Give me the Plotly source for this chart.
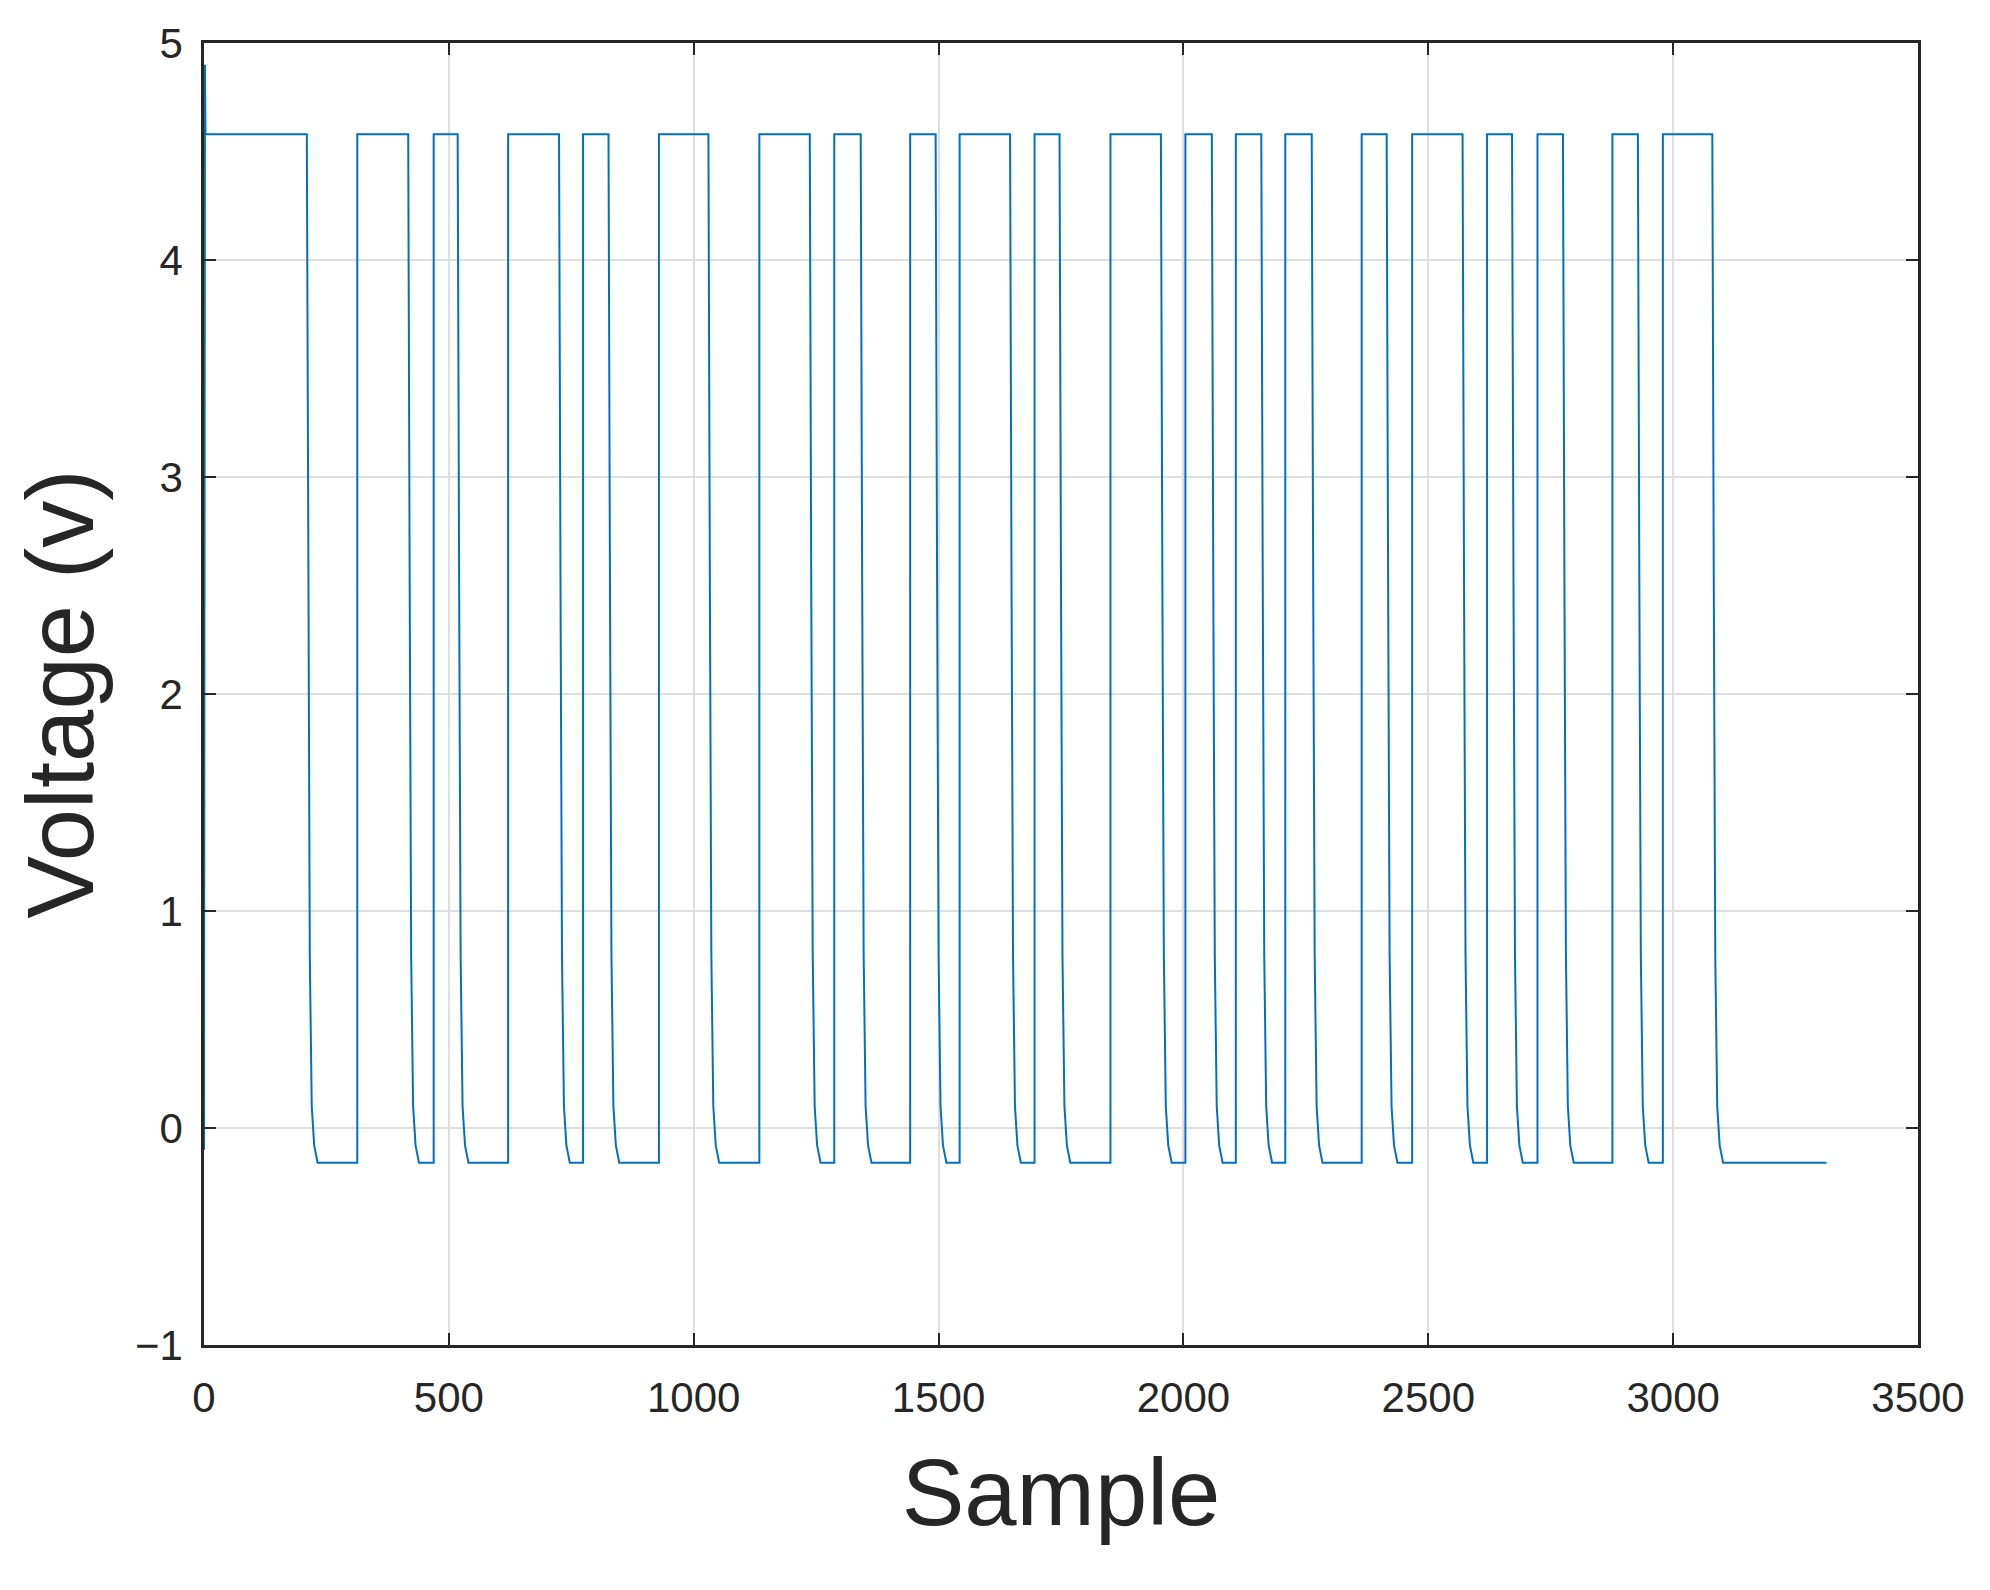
import plotly.graph_objects as go

# transitions (sample index)
fall_at = [210, 417, 518, 725, 826, 1030, 1237, 1341, 1494, 1646, 1747, 1954, 2058, 2159, 2262, 2415, 2570, 2671, 2775, 2928, 3080]
rise_at = [313, 469, 621, 774, 929, 1134, 1287, 1442, 1543, 1696, 1851, 2004, 2107, 2208, 2364, 2467, 2620, 2723, 2876, 2979]
end_sample = 3313
high_v = 4.58
low_v = -0.16
fall_len = 22

xs = [0, 2, 3]
ys = [-0.1, 4.9, high_v]
for i, f in enumerate(fall_at):
    xs += [f, f + 3, f + 6, f + 10, f + 15, f + fall_len]
    ys += [high_v, 2.5, 0.8, 0.1, -0.08, low_v]
    r = rise_at[i] if i < len(rise_at) else end_sample
    xs += [r]
    ys += [low_v]
    if i < len(rise_at):
        xs += [r]
        ys += [high_v]

fig = go.Figure(go.Scatter(x=xs, y=ys, mode="lines", line=dict(color="#0072BD", width=2)))
axis = dict(showline=True, linecolor="#262626", linewidth=2.5, mirror="ticks", ticks="inside",
            ticklen=12, tickwidth=2, tickcolor="#262626", showgrid=True, gridcolor="#DFDFDF",
            gridwidth=2, zeroline=False, tickfont=dict(size=42, color="#262626"))
fig.update_xaxes(range=[0, 3500], dtick=500, ticklabelstandoff=14,
                 title=dict(text="Sample", font=dict(size=94, color="#262626"), standoff=40), **axis)
fig.update_yaxes(range=[-1, 5], dtick=1, ticklabelstandoff=10,
                 title=dict(text="Voltage (v)", font=dict(size=94, color="#262626"), standoff=25), **axis)
fig.update_layout(width=1990, height=1590, margin=dict(l=196, r=80, t=32, b=253),
                  paper_bgcolor="white", plot_bgcolor="white",
                  font=dict(family="Liberation Sans, Arial, sans-serif"), showlegend=False)
fig.write_html("out.html")
